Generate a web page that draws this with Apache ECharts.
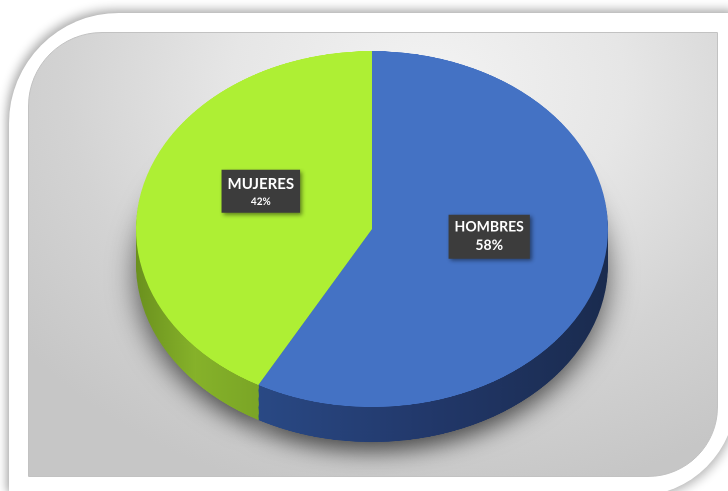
<!DOCTYPE html>
<html>
<head>
<meta charset="utf-8">
<script src="https://cdn.jsdelivr.net/npm/echarts@6/dist/echarts.min.js"></script>
<style>
  html, body { margin: 0; padding: 0; width: 728px; height: 491px; overflow: hidden; background: #ffffff; }
  #frame {
    position: absolute; left: 9px; top: 13px; width: 727px; height: 483px;
    background: #ffffff; border-radius: 110px 0 100px 0;
    box-shadow: -3px -4px 10px rgba(0,0,0,0.28), 3px 4px 10px rgba(0,0,0,0.22);
  }
  #panel {
    position: absolute; left: 28px; top: 32px; width: 688px; height: 443px;
    border: 1px solid #c2c2c2; border-radius: 74px 0 70px 0;
    background: radial-gradient(ellipse 75% 95% at 58% 12%, #f3f3f3 0%, #e6e6e6 38%, #d3d3d3 70%, #c6c6c6 100%);
  }
  #pie3d { position: absolute; left: 0; top: 0; width: 728px; transform-origin: 0 0; }
  #labels { position: absolute; left: 0; top: 0; width: 728px; height: 491px; }
</style>
</head>
<body>
<div id="frame"></div>
<div id="panel"></div>
<div id="pie3d"></div>
<div id="labels"></div>
<script>
// Gender split
const categories = ['HOMBRES', 'MUJERES'];
const values = [58, 42];

// Colours: top face and the gradient stops for the visible rim
const topColors = ['#4472C4', '#AEEF34'];
const rimStops = [
  [[0, '#2A4A86'], [0.5, '#22386A'], [1, '#1A2B4E']],
  [[0, '#6A901E'], [0.5, '#86B22A'], [1, '#7BA626']]
];
const rimRange = [[250, 610], [134, 256]];

// Elliptical projection of the disc
const W = 728, H = 491;
const CX = 372, CY = 229, R = 236, RY = 178;
const TILT = RY / R;
const DEPTH = 34;                 // rim thickness on screen
const CYU = CY / TILT;            // centre in unscaled chart space
const DEPTHU = DEPTH / TILT;
const STEP = 1.5;

const pieDiv = document.getElementById('pie3d');
pieDiv.style.height = (H / TILT) + 'px';
pieDiv.style.transform = 'scaleY(' + TILT + ')';

function rimGradient(i) {
  const [x0, x1] = rimRange[i];
  return {
    type: 'linear', x: x0, y: 0, x2: x1, y2: 0, global: true,
    colorStops: rimStops[i].map(s => ({ offset: s[0], color: s[1] }))
  };
}

function pieSeries(cy, colorFn, z, extra) {
  return Object.assign({
    type: 'pie',
    center: [CX, cy],
    radius: [0, R],
    startAngle: 90,
    clockwise: true,
    silent: true,
    animation: false,
    z: z,
    label: { show: false },
    labelLine: { show: false },
    emphasis: { disabled: true },
    itemStyle: { borderWidth: 0 },
    data: categories.map((name, i) => ({
      name: name, value: values[i], itemStyle: { color: colorFn(i), borderWidth: 0 }
    }))
  }, extra || {});
}

const series = [];
// soft cast shadow under the disc
series.push(pieSeries(CYU + DEPTHU - 6, () => '#7a7a7a', 0, {
  radius: [0, R - 2],
  itemStyle: { borderWidth: 0, shadowBlur: 30, shadowColor: 'rgba(0,0,0,0.65)', shadowOffsetY: 22 }
}));
// rim, stacked from the bottom up
const layers = Math.ceil(DEPTHU / STEP);
for (let k = layers; k >= 1; k--) {
  series.push(pieSeries(CYU + k * STEP, rimGradient, 1));
}
// top face
series.push(pieSeries(CYU, i => topColors[i], 5));

const chart = echarts.init(pieDiv, null, { devicePixelRatio: 2 });
chart.setOption({ animation: false, series: series });

// Data labels, drawn unscaled over the projected disc
const richStyles = [
  {
    n: { fontFamily: 'Lato', fontWeight: 'bold', fontSize: 14, lineHeight: 19, color: '#ffffff' },
    p: { fontFamily: 'Lato', fontWeight: 'bold', fontSize: 14, lineHeight: 18, color: '#ffffff' }
  },
  {
    n: { fontFamily: 'Lato', fontWeight: 'bold', fontSize: 15, lineHeight: 21, color: '#ffffff' },
    p: { fontFamily: 'Lato', fontWeight: 'bold', fontSize: 10, lineHeight: 14, color: '#ffffff' }
  }
];
const labelPad = [[3, 6, 4, 6], [4, 6, 4, 6]];
const labelNudge = [[0, -15], [6, -15]];

const labelChart = echarts.init(document.getElementById('labels'), null, { devicePixelRatio: 2 });
labelChart.setOption({
  animation: false,
  series: [{
    type: 'pie',
    center: [CX, CY],
    radius: [0, R],
    startAngle: 90,
    clockwise: true,
    silent: true,
    itemStyle: { color: 'rgba(0,0,0,0)', borderWidth: 0 },
    labelLine: { show: false },
    label: {
      show: true,
      position: 'inside',
      formatter: p => '{n|' + p.name + '}\n{p|' + Math.round(p.percent) + '%}',
      backgroundColor: '#3c3c3c',
      shadowBlur: 4, shadowColor: 'rgba(0,0,0,0.45)', shadowOffsetX: 2, shadowOffsetY: 2
    },
    labelLayout: function (p) {
      const r = p.labelRect;
      const lx = r.x + r.width / 2, ly = r.y + r.height / 2;
      const [dx, dy] = labelNudge[p.dataIndex];
      return { x: lx + dx, y: CY + (ly - CY) * TILT + dy };
    },
    data: categories.map((name, i) => ({
      name: name, value: values[i],
      label: { rich: richStyles[i], padding: labelPad[i] }
    }))
  }]
});
</script>
</body>
</html>
